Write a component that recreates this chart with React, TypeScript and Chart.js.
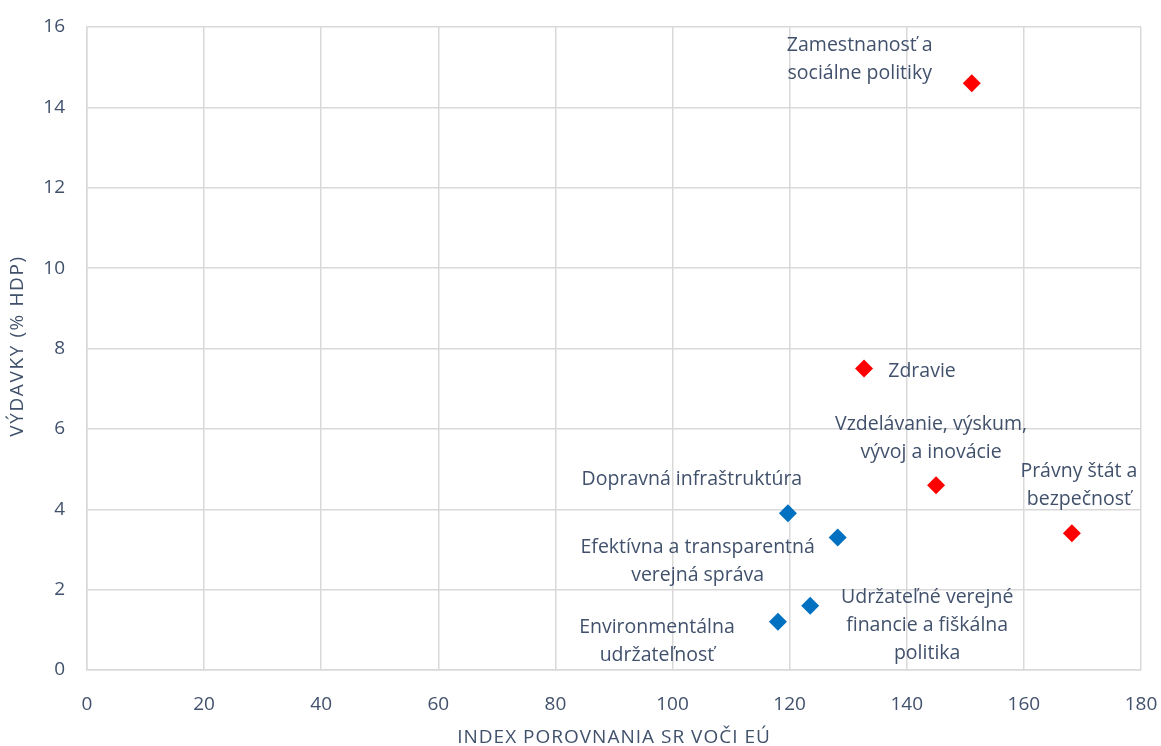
import React, { useEffect, useRef } from "react";
import { Chart, registerables } from "chart.js";

Chart.register(...registerables);

const redLabels = [
  ["Zamestnanosť a", "sociálne politiky"],
  ["Zdravie"],
  ["Vzdelávanie, výskum,", "vývoj a inovácie"],
  ["Právny štát a", "bezpečnosť"],
];
const redX = [151.1, 132.7, 145.0, 168.2];
const redY = [14.6, 7.5, 4.6, 3.4];

const blueLabels = [
  ["Dopravná infraštruktúra"],
  ["Efektívna a transparentná", "verejná správa"],
  ["Udržateľné verejné", "financie a fiškálna", "politika"],
  ["Environmentálna", "udržateľnosť"],
];
const blueX = [119.7, 128.2, 123.5, 118.0];
const blueY = [3.9, 3.3, 1.6, 1.2];

const xTicks = [0, 20, 40, 60, 80, 100, 120, 140, 160, 180];
const yTicks = [0, 2, 4, 6, 8, 10, 12, 14, 16];

const xTitle = "INDEX POROVNANIA SR VOČI EÚ";
const yTitle = "VÝDAVKY (% HDP)";

// label block centre offsets (px) relative to the point
const redOffsets = [
  [-112, -24],
  [58, 3],
  [-5, -47],
  [7, -48],
];
const blueOffsets = [
  [-96, -34],
  [-140, 24],
  [117, 20],
  [-121, 20],
];

const TEXT = "#41516c";
const FONT = "'Open Sans', 'Noto Sans', sans-serif";

const labelPlugin = {
  id: "pointLabels",
  afterDatasetsDraw(chart: any) {
    const ctx = chart.ctx;
    const xs = chart.scales.x;
    const ys = chart.scales.y;
    const area = chart.chartArea;
    ctx.save();
    ctx.fillStyle = TEXT;
    ctx.font = `19.5px ${FONT}`;
    ctx.textAlign = "center";
    ctx.textBaseline = "middle";
    const lh = 28;
    const drawSet = (X: number[], Y: number[], L: string[][], O: number[][]) => {
      X.forEach((xv, i) => {
        const px = xs.getPixelForValue(xv) + O[i][0];
        const py = ys.getPixelForValue(Y[i]) + O[i][1];
        const lines = L[i];
        const start = py - ((lines.length - 1) * lh) / 2;
        lines.forEach((t, j) => ctx.fillText(t, px, start + j * lh));
      });
    };
    drawSet(redX, redY, redLabels, redOffsets);
    drawSet(blueX, blueY, blueLabels, blueOffsets);

    // axis titles
    ctx.font = `19px ${FONT}`;
    (ctx as any).letterSpacing = "1px";
    ctx.fillText(xTitle, (area.left + area.right) / 2, 738);
    ctx.translate(18, 346);
    ctx.rotate(-Math.PI / 2);
    (ctx as any).letterSpacing = "1.6px";
    ctx.fillText(yTitle, 0, 0);
    ctx.restore();
  },
};

export default function App() {
  const ref = useRef<HTMLCanvasElement | null>(null);
  useEffect(() => {
    document.body.style.margin = "0";
    const chart = new Chart(ref.current as HTMLCanvasElement, {
      type: "scatter",
      data: {
        datasets: [
          {
            label: "red",
            data: redX.map((x, i) => ({ x, y: redY[i] })),
            backgroundColor: "#ff0000",
            borderColor: "#ff0000",
            pointStyle: "rectRot",
            pointRadius: 9,
            borderWidth: 0,
          },
          {
            label: "blue",
            data: blueX.map((x, i) => ({ x, y: blueY[i] })),
            backgroundColor: "#0070c0",
            borderColor: "#0070c0",
            pointStyle: "rectRot",
            pointRadius: 9,
            borderWidth: 0,
          },
        ],
      },
      options: {
        animation: false,
        responsive: false,
        layout: { padding: { top: 27, right: 20, left: 0, bottom: 0 } },
        plugins: { legend: { display: false }, tooltip: { enabled: false } },
        scales: {
          x: {
            type: "linear",
            min: 0,
            max: 180,
            afterBuildTicks: (s: any) => {
              s.ticks = xTicks.map((v) => ({ value: v }));
            },
            afterFit: (s: any) => {
              s.height = 76;
              s.paddingLeft = 0;
              s.paddingRight = 0;
            },
            grid: { color: "#d9d9d9", lineWidth: 1.5, drawTicks: false },
            border: { color: "#d9d9d9", width: 1.5 },
            ticks: { color: TEXT, font: { size: 19, family: FONT }, padding: 23, maxRotation: 0 },
          },
          y: {
            type: "linear",
            min: 0,
            max: 16,
            afterBuildTicks: (s: any) => {
              s.ticks = yTicks.map((v) => ({ value: v }));
            },
            afterFit: (s: any) => {
              s.width = 87;
              s.paddingTop = 0;
              s.paddingBottom = 0;
            },
            grid: { color: "#d9d9d9", lineWidth: 1.5, drawTicks: false },
            border: { color: "#d9d9d9", width: 1.5 },
            ticks: { color: TEXT, font: { size: 19, family: FONT }, padding: 22 },
          },
        },
      },
      plugins: [labelPlugin],
    } as any);
    return () => chart.destroy();
  }, []);
  return <canvas ref={ref} width={1161} height={746} style={{ display: "block" }} />;
}
